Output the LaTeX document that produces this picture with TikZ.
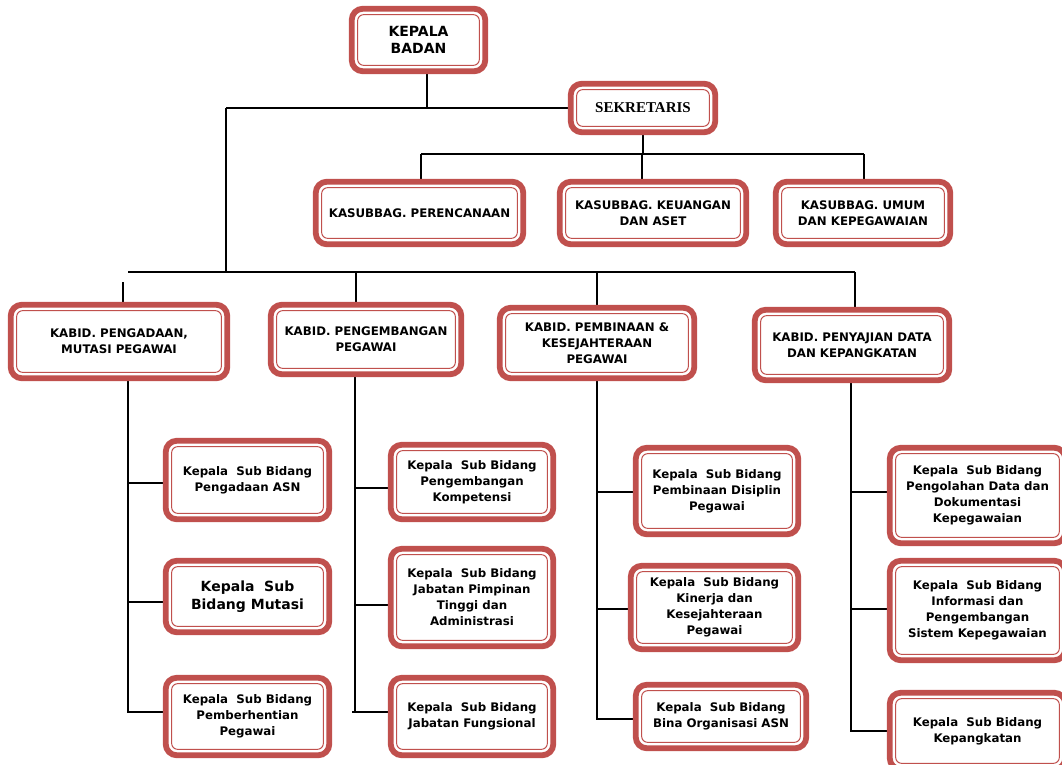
\documentclass[tikz,border=0pt]{standalone}
\usepackage{fontspec}
\setmainfont{DejaVu Sans}
\newfontfamily\titleserif{Liberation Serif}
\usetikzlibrary{backgrounds}
\definecolor{boxred}{RGB}{192,80,77}

\tikzset{
  unit/.style={draw=boxred, line width=5.8pt, rounded corners=11pt, fill=white,
    align=center, inner sep=2pt, font=\bfseries\fontsize{11.8}{16}\selectfont,
    path picture={\draw[boxred, line width=1pt, rounded corners=6pt]
      ([shift={(5.9pt,5.9pt)}]path picture bounding box.south west) rectangle
      ([shift={(-5.9pt,-5.9pt)}]path picture bounding box.north east);}},
  bigtext/.style={font=\bfseries\fontsize{14}{17.5}\selectfont},
  link/.style={line width=1.6pt, black}
}

\begin{document}
\begin{tikzpicture}[x=1pt,y=-1pt]
\useasboundingbox (0,0) rectangle (1062,765);
\clip (0,0) rectangle (1062,765);

% top
\node[unit, bigtext, minimum width=133.5pt, minimum height=62.5pt] (kepala) at (418.5,40) {KEPALA\\BADAN};
\node[unit, font=\titleserif\bfseries\fontsize{15}{17}\selectfont, minimum width=144.5pt, minimum height=48.5pt] (sekretaris) at (643,108) {SEKRETARIS};

% kasubbag
\node[unit, minimum width=207.5pt, minimum height=62.5pt] (plan) at (419.5,213) {KASUBBAG. PERENCANAAN};
\node[unit, minimum width=186.5pt, minimum height=62.5pt] (keu) at (653,213) {KASUBBAG. KEUANGAN\\DAN ASET};
\node[unit, minimum width=174.5pt, minimum height=62.5pt] (umum) at (863,213) {KASUBBAG. UMUM\\DAN KEPEGAWAIAN};

% kabid
\node[unit, minimum width=216.5pt, minimum height=73.5pt] (kabidA) at (119,341.5) {KABID. PENGADAAN,\\MUTASI PEGAWAI};
\node[unit, minimum width=190.5pt, minimum height=69.5pt] (kabidB) at (366,339.5) {KABID. PENGEMBANGAN\\PEGAWAI};
\node[unit, minimum width=194.5pt, minimum height=70.5pt] (kabidC) at (597,343) {KABID. PEMBINAAN \&\\KESEJAHTERAAN\\PEGAWAI};
\node[unit, minimum width=194.5pt, minimum height=70.5pt] (kabidD) at (852,345) {KABID. PENYAJIAN DATA\\DAN KEPANGKATAN};

% sub bidang
\node[unit, minimum width=163.5pt, minimum height=78.5pt] (subA1) at (247.5,480) {Kepala\ \ Sub Bidang\\Pengadaan ASN};
\node[unit, bigtext, minimum width=163.5pt, minimum height=71.5pt] (subA2) at (247.5,596.5) {Kepala\ \ Sub\\Bidang Mutasi};
\node[unit, minimum width=163.5pt, minimum height=77.5pt] (subA3) at (247.5,716.5) {Kepala\ \ Sub Bidang\\Pemberhentian\\Pegawai};

\node[unit, minimum width=162.5pt, minimum height=74.5pt] (subB1) at (472,482) {Kepala\ \ Sub Bidang\\Pengembangan\\Kompetensi};
\node[unit, minimum width=162.5pt, minimum height=97.5pt] (subB2) at (472,597.5) {Kepala\ \ Sub Bidang\\Jabatan Pimpinan\\Tinggi dan\\Administrasi};
\node[unit, minimum width=162.5pt, minimum height=77.5pt] (subB3) at (472,716.5) {Kepala\ \ Sub Bidang\\Jabatan Fungsional};

\node[unit, minimum width=162.5pt, minimum height=86.5pt] (subC1) at (717,491) {Kepala\ \ Sub Bidang\\Pembinaan Disiplin\\Pegawai};
\node[unit, minimum width=167.5pt, minimum height=83.5pt] (subC2) at (714.5,607.5) {Kepala\ \ Sub Bidang\\Kinerja dan\\Kesejahteraan\\Pegawai};
\node[unit, minimum width=170.5pt, minimum height=63.5pt] (subC3) at (721,716.5) {Kepala\ \ Sub Bidang\\Bina Organisasi ASN};

\node[unit, minimum width=175.5pt, minimum height=95.5pt] (subD1) at (977.5,495.5) {Kepala\ \ Sub Bidang\\Pengolahan Data dan\\Dokumentasi\\Kepegawaian};
\node[unit, minimum width=175.5pt, minimum height=99.5pt] (subD2) at (977.5,610.5) {Kepala\ \ Sub Bidang\\Informasi dan\\Pengembangan\\Sistem Kepegawaian};
\node[unit, minimum width=175.5pt, minimum height=76.5pt] (subD3) at (977.5,731) {Kepala\ \ Sub Bidang\\Kepangkatan};

% junction points
\coordinate (headT) at (427,108);
\coordinate (trunkT) at (226,108);
\coordinate (trunkB) at (226,272);
\coordinate (busL) at (128,272);
\coordinate (busR) at (855,272);
\coordinate (stubA) at (123,282);
\coordinate (busB) at (356,272);
\coordinate (busC) at (597,272);
\coordinate (sekB) at (643,154);
\coordinate (sekL) at (421,154);
\coordinate (sekM) at (642,154);
\coordinate (sekR) at (864,154);
\coordinate (colA) at (128,712);
\coordinate (colB) at (355,712);
\coordinate (colBx) at (352,712);
\coordinate (colC) at (597,719);
\coordinate (colD) at (851,731);

\begin{scope}[on background layer]
\draw[link] (kepala.south -| headT) -- (headT);
\draw[link] (trunkT) -- (sekretaris.west |- trunkT);
\draw[link] (trunkT) -- (trunkB);
\draw[link] (busL) -- (busR);
\draw[link] (stubA) -- (kabidA.north -| stubA);
\draw[link] (busB) -- (kabidB.north -| busB);
\draw[link] (busC) -- (kabidC.north -| busC);
\draw[link] (busR) -- (kabidD.north -| busR);

\draw[link] (sekretaris.south -| sekB) -- (sekB);
\draw[link] (sekL) -- (sekR);
\draw[link] (sekL) -- (plan.north -| sekL);
\draw[link] (sekM) -- (keu.north -| sekM);
\draw[link] (sekR) -- (umum.north -| sekR);

% columns
\draw[link] (kabidA.south -| colA) -- (colA) -- (subA3.west |- colA);
\draw[link] (colA |- 0,483) -- (subA1.west |- 0,483);
\draw[link] (colA |- 0,602) -- (subA2.west |- 0,602);

\draw[link] (kabidB.south -| colB) -- (colB);
\draw[link] (colBx) -- (subB3.west |- colBx);
\draw[link] (colB |- 0,488) -- (subB1.west |- 0,488);
\draw[link] (colB |- 0,605) -- (subB2.west |- 0,605);

\draw[link] (kabidC.south -| colC) -- (colC) -- (subC3.west |- colC);
\draw[link] (colC |- 0,492) -- (subC1.west |- 0,492);
\draw[link] (colC |- 0,609) -- (subC2.west |- 0,609);

\draw[link] (kabidD.south -| colD) -- (colD) -- (subD3.west |- colD);
\draw[link] (colD |- 0,492) -- (subD1.west |- 0,492);
\draw[link] (colD |- 0,609) -- (subD2.west |- 0,609);
\end{scope}
\end{tikzpicture}
\end{document}
